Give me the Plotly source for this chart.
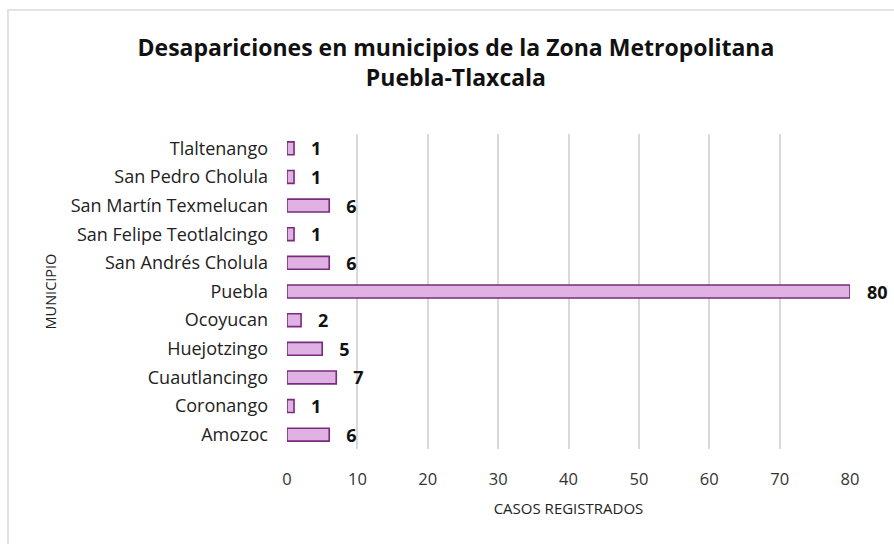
import plotly.graph_objects as go

municipios = ["Amozoc", "Coronango", "Cuautlancingo", "Huejotzingo", "Ocoyucan", "Puebla",
              "San Andrés Cholula", "San Felipe Teotlalcingo", "San Martín Texmelucan",
              "San Pedro Cholula", "Tlaltenango"]
casos = [6, 1, 7, 5, 2, 80, 6, 1, 6, 1, 1]
x_ticks = [0, 10, 20, 30, 40, 50, 60, 70, 80]

FONT = "Open Sans"

fig = go.Figure()
fig.add_trace(go.Bar(
    y=municipios, x=casos, orientation="h",
    width=0.45,
    marker=dict(color="#dfb2e3", line=dict(color="#7a2a7e", width=1.6)),
    text=["\u00a0\u00a0\u00a0" + str(v) for v in casos], textposition="outside", constraintext="none",
    textfont=dict(family=FONT, size=18, color="#111111", weight="bold"),
    cliponaxis=False,
))

L, R, T, B = 287, 850, 134, 449
W, H = 894, 544
pw, ph = R - L, B - T

fig.update_layout(
    width=W, height=H,
    margin=dict(l=L, r=W - R, t=T, b=H - B, autoexpand=False),
    paper_bgcolor="white", plot_bgcolor="white",
    showlegend=False,
    title=dict(text="Desapariciones en municipios de la Zona Metropolitana<br>Puebla-Tlaxcala",
               x=0.51, xanchor="center", y=1 - 56 / H, yanchor="middle",
               font=dict(family=FONT, size=23, color="#111111", weight="bold")),
    xaxis=dict(range=[0, 80], tickvals=x_ticks, showgrid=True, gridcolor="#d9d9d9",
               gridwidth=1.5, zeroline=False, showline=False,
               ticklabelstandoff=18,
               tickfont=dict(family=FONT, size=16.5, color="#333333"),
               title=dict(text="CASOS REGISTRADOS", standoff=14,
                          font=dict(family=FONT, size=15, color="#222222"))),
    yaxis=dict(categoryorder="array", categoryarray=municipios, range=[-0.5, 10.5],
               showgrid=False, zeroline=False, showline=False,
               ticklabelstandoff=18,
               tickfont=dict(family=FONT, size=18, color="#222222"),
               title=dict(text="MUNICIPIO", standoff=10,
                          font=dict(family=FONT, size=14.5, color="#222222"))),
    shapes=[dict(type="rect", xref="paper", yref="paper",
                 x0=(8 - L) / pw, x1=(W + 10 - L) / pw,
                 y0=(B - (H + 10)) / ph, y1=(B - 10) / ph,
                 line=dict(color="#d9d9d9", width=1.5), fillcolor="rgba(0,0,0,0)", layer="below")],
)

fig.write_html("out.html", config={"displayModeBar": False},
               post_script="document.body.style.margin='0';")
